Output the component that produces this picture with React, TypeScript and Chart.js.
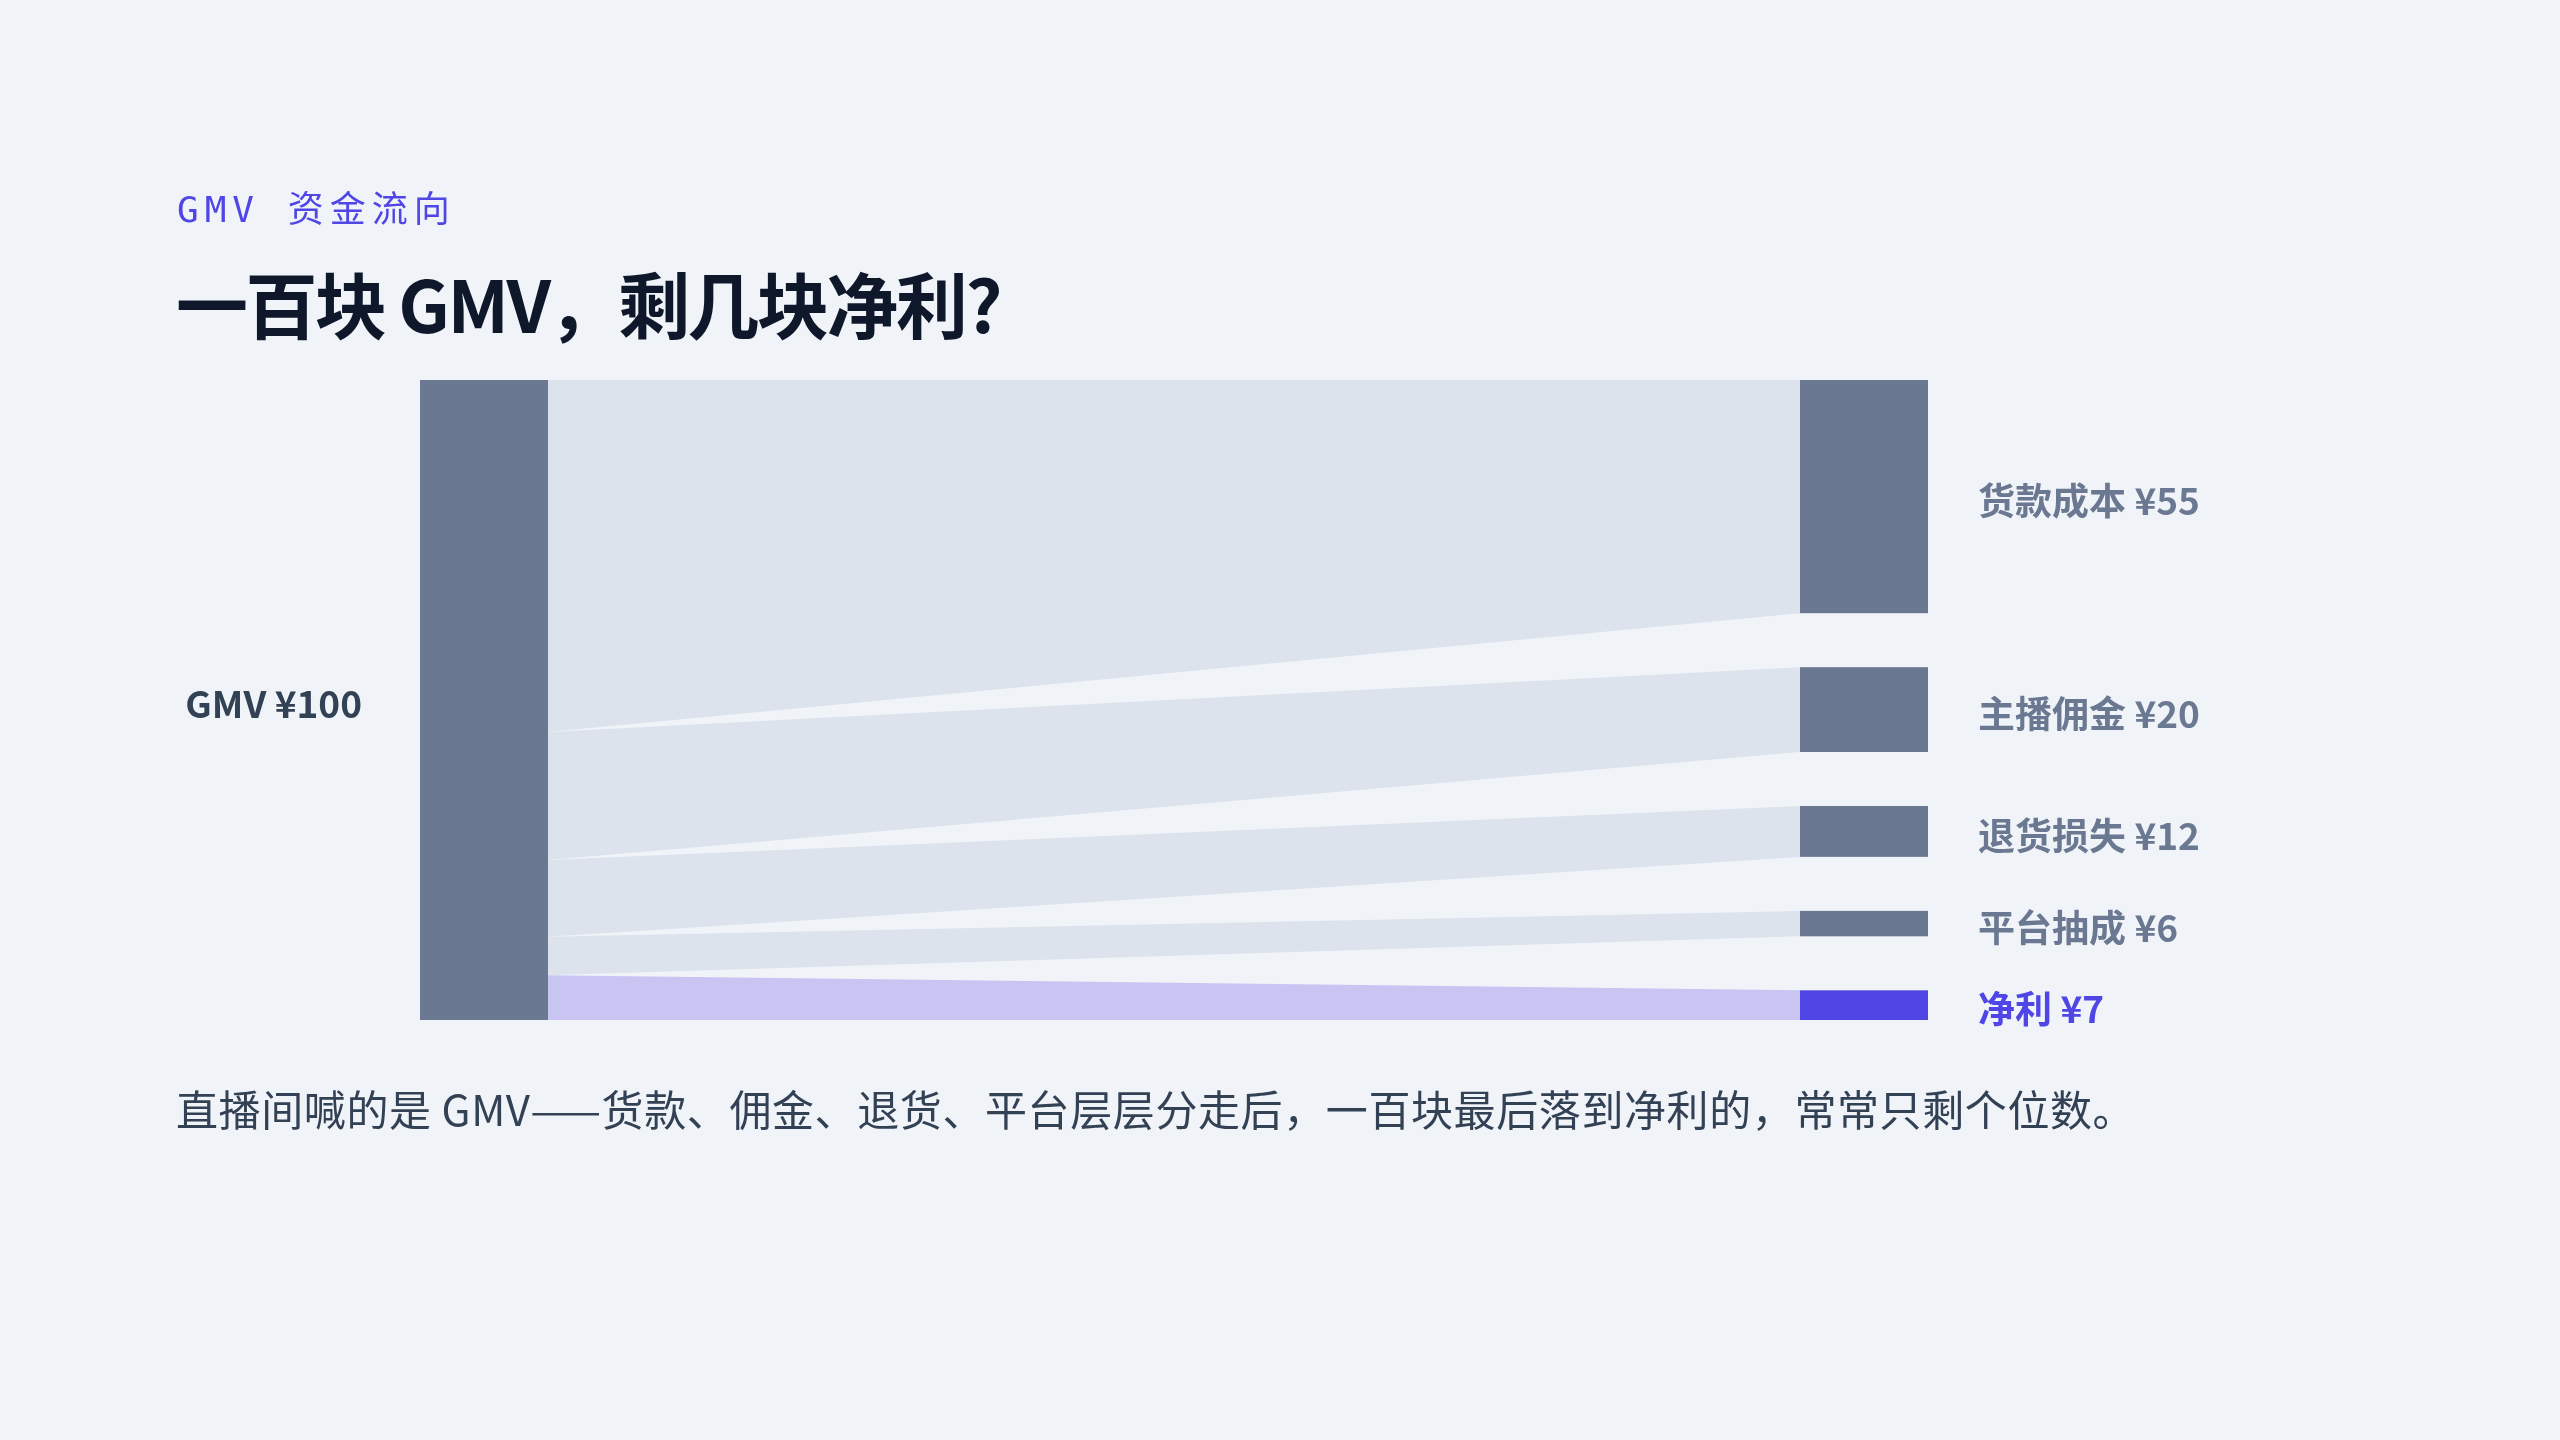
import React, { useEffect, useRef } from "react";
import { Chart, registerables } from "chart.js";

Chart.register(...registerables);

// ---- data ----
const SOURCE_LABEL = "GMV";
const SOURCE_TOTAL = 100;
const TARGET_LABELS = ["货款成本", "主播佣金", "退货损失", "平台抽成", "净利"];
const TARGET_VALUES = [55, 20, 12, 6, 7];
const HIGHLIGHT_LABEL = "净利";

const EYEBROW = "GMV 资金流向";
const TITLE = "一百块 GMV，剩几块净利?";
const CAPTION =
  "直播间喊的是 GMV——货款、佣金、退货、平台层层分走后，一百块最后落到净利的，常常只剩个位数。";

// ---- style ----
const BG = "#f0f4f9";
const NODE_COLOR = "#6b7891";
const LINK_COLOR = "#dce3ed";
const HI_NODE = "#4f46e5";
const HI_LINK = "#c8c5f3";
const LEFT_LABEL_COLOR = "#334155";
const RIGHT_LABEL_COLOR = "#6b7891";
const CJK = '"Noto Sans CJK SC", "Noto Sans", sans-serif';
const NODE_W = 128;
const NODE_PAD = 54;

const fmt = (v: number) => `¥${v}`;

const sankeyPlugin = {
  id: "sankeyFlow",
  afterDatasetsDraw(chart: any) {
    const { ctx } = chart;
    const x = chart.scales.x;
    const y = chart.scales.y;
    const n = TARGET_VALUES.length;
    const leftX0 = x.getPixelForValue(0);
    const leftX1 = leftX0 + NODE_W;
    const rightX1 = x.getPixelForValue(1);
    const rightX0 = rightX1 - NODE_W;
    const top = y.getPixelForValue(0);
    const H = y.getPixelForValue(SOURCE_TOTAL) - top;
    const shrink = (H - NODE_PAD * (n - 1)) / H;

    ctx.save();
    // links
    let cum = 0;
    const rightNodes: { y0: number; y1: number }[] = [];
    TARGET_VALUES.forEach((v, i) => {
      const l0 = y.getPixelForValue(cum);
      const l1 = y.getPixelForValue(cum + v);
      const r0 = y.getPixelForValue(cum * shrink) + i * NODE_PAD;
      const r1 = y.getPixelForValue((cum + v) * shrink) + i * NODE_PAD;
      rightNodes.push({ y0: r0, y1: r1 });
      ctx.beginPath();
      ctx.moveTo(leftX1, l0);
      ctx.lineTo(rightX0, r0);
      ctx.lineTo(rightX0, r1);
      ctx.lineTo(leftX1, l1);
      ctx.closePath();
      ctx.fillStyle = TARGET_LABELS[i] === HIGHLIGHT_LABEL ? HI_LINK : LINK_COLOR;
      ctx.fill();
      cum += v;
    });

    // source node
    const sTop = y.getPixelForValue(0);
    const sBot = y.getPixelForValue(SOURCE_TOTAL);
    ctx.fillStyle = NODE_COLOR;
    ctx.fillRect(leftX0, sTop, NODE_W, sBot - sTop);

    // target nodes
    rightNodes.forEach((r, i) => {
      ctx.fillStyle = TARGET_LABELS[i] === HIGHLIGHT_LABEL ? HI_NODE : NODE_COLOR;
      ctx.fillRect(rightX0, r.y0, NODE_W, r.y1 - r.y0);
    });

    // labels
    ctx.font = `700 37px ${CJK}`;
    ctx.textBaseline = "middle";
    ctx.textAlign = "right";
    ctx.fillStyle = LEFT_LABEL_COLOR;
    ctx.fillText(`${SOURCE_LABEL} ${fmt(SOURCE_TOTAL)}`, leftX0 - 58, (sTop + sBot) / 2 + 4);

    ctx.textAlign = "left";
    rightNodes.forEach((r, i) => {
      ctx.fillStyle = TARGET_LABELS[i] === HIGHLIGHT_LABEL ? HI_NODE : RIGHT_LABEL_COLOR;
      ctx.fillText(`${TARGET_LABELS[i]} ${fmt(TARGET_VALUES[i])}`, rightX1 + 50, (r.y0 + r.y1) / 2 + 4);
    });
    ctx.restore();
  },
};

export default function App() {
  const canvasRef = useRef<HTMLCanvasElement | null>(null);

  useEffect(() => {
    if (!canvasRef.current) return;
    const chart = new Chart(canvasRef.current, {
      type: "scatter",
      data: { datasets: [{ data: [] }] },
      options: {
        animation: false,
        responsive: false,
        devicePixelRatio: 1,
        layout: { padding: { left: 420, right: 632, top: 380, bottom: 420 } },
        plugins: { legend: { display: false }, tooltip: { enabled: false }, title: { display: false } },
        scales: {
          x: { type: "linear", min: 0, max: 1, display: false },
          y: { type: "linear", min: 0, max: SOURCE_TOTAL, reverse: true, display: false },
        },
      },
      plugins: [sankeyPlugin],
    } as any);
    return () => chart.destroy();
  }, []);

  return (
    <div
      style={{
        position: "absolute",
        left: 0,
        top: 0,
        width: 2560,
        height: 1440,
        background: BG,
        overflow: "hidden",
      }}
    >
      <canvas
        ref={canvasRef}
        width={2560}
        height={1440}
        style={{ position: "absolute", left: 0, top: 0, width: 2560, height: 1440 }}
      />
      <div
        style={{
          position: "absolute",
          left: 177,
          top: 192,
          fontFamily: `"DejaVu Sans Mono", ${CJK}`,
          fontSize: 36,
          lineHeight: "36px",
          letterSpacing: 6,
          color: HI_NODE,
          whiteSpace: "nowrap",
        }}
      >
        {EYEBROW}
      </div>
      <div
        style={{
          position: "absolute",
          left: 176,
          top: 266,
          fontFamily: CJK,
          fontWeight: 700,
          fontSize: 72,
          lineHeight: "72px",
          letterSpacing: -2.5,
          color: "#0f172a",
          whiteSpace: "nowrap",
        }}
      >
        {TITLE}
      </div>
      <div
        style={{
          position: "absolute",
          left: 176,
          top: 1087,
          fontFamily: CJK,
          fontSize: 42,
          lineHeight: "42px",
          letterSpacing: 0.6,
          color: LEFT_LABEL_COLOR,
          whiteSpace: "nowrap",
        }}
      >
        {CAPTION}
      </div>
    </div>
  );
}
